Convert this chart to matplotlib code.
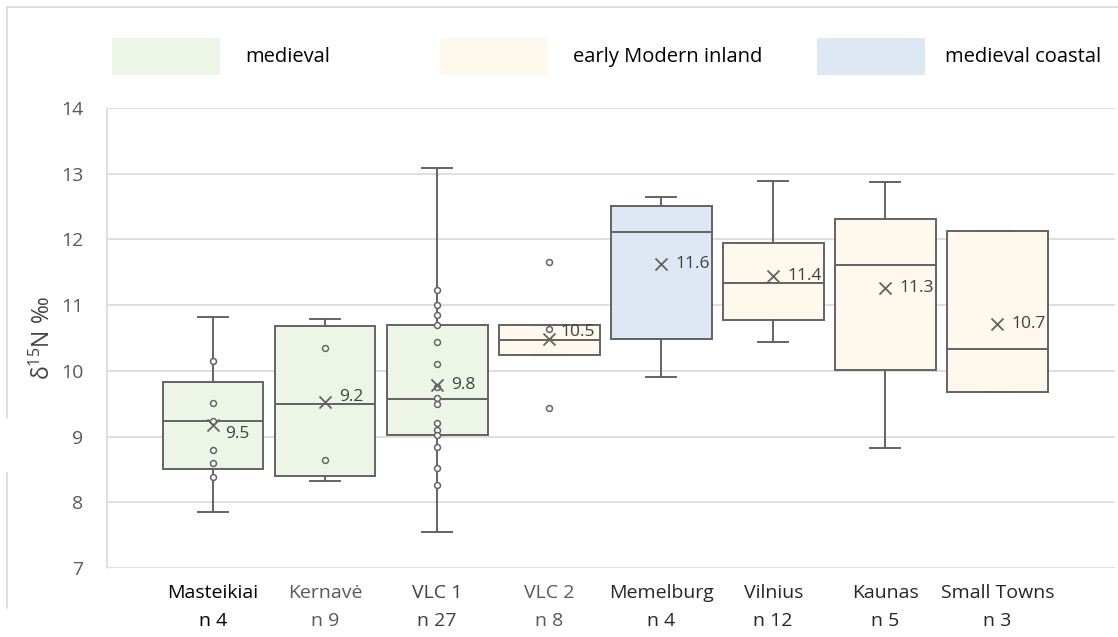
import matplotlib
matplotlib.use("Agg")
import matplotlib.pyplot as plt
from matplotlib.patches import Rectangle
from matplotlib.lines import Line2D

# ---------------- data ----------------
categories = ['Masteikiai', 'Kernavė', 'VLC 1', 'VLC 2', 'Memelburg', 'Vilnius', 'Kaunas', 'Small Towns']
n_labels = ['n 4', 'n 9', 'n 27', 'n 8', 'n 4', 'n 12', 'n 5', 'n 3']
groups = ['medieval', 'medieval', 'medieval', 'early Modern inland', 'medieval coastal',
          'early Modern inland', 'early Modern inland', 'early Modern inland']
whislo = [7.85, 8.33, 7.55, 10.24, 9.90, 10.44, 8.82, 9.68]
q1 = [8.50, 8.40, 9.03, 10.24, 10.48, 10.78, 10.02, 9.68]
med = [9.24, 9.49, 9.57, 10.47, 12.12, 11.34, 11.61, 10.34]
q3 = [9.83, 10.68, 10.70, 10.70, 12.51, 11.94, 12.31, 12.13]
whishi = [10.82, 10.79, 13.08, 10.70, 12.65, 12.89, 12.87, 12.13]
means = [9.17, 9.52, 9.78, 10.48, 11.62, 11.44, 11.26, 10.72]
mean_labels = ['9.5', '9.2', '9.8', '10.5', '11.6', '11.4', '11.3', '10.7']
inner_points = [
    [10.15, 9.51, 9.24, 8.80, 8.60, 8.39],
    [10.35, 8.65],
    [11.23, 11.00, 10.85, 10.70, 10.44, 10.10, 9.76, 9.58, 9.49, 9.21, 9.10, 9.03, 8.84, 8.52, 8.27],
    [11.65, 10.64, 9.44],
    [], [], [], [],
]
legend_labels = ['medieval', 'early Modern inland', 'medieval coastal']
yticks = [7, 8, 9, 10, 11, 12, 13, 14]

# ---------------- style ----------------
group_colors = {'medieval': '#EDF5E7', 'early Modern inland': '#FEF9EC', 'medieval coastal': '#DEE8F4'}
edge = '#636363'
grid = '#D9D9D9'
label_font = ['Open Sans', 'DejaVu Sans']
num_font = ['Open Sans', 'DejaVu Sans']

W, H = 1118, 637
fig = plt.figure(figsize=(W / 100, H / 100), dpi=100)
fig.patch.set_facecolor('white')

ax_l, ax_r, ax_t, ax_b = 107, 1115, 108, 568
ax = fig.add_axes([ax_l / W, 1 - ax_b / H, (ax_r - ax_l) / W, (ax_b - ax_t) / H])

positions = list(range(1, len(categories) + 1))
stats = []
for i in range(len(categories)):
    stats.append(dict(whislo=whislo[i], q1=q1[i], med=med[i], q3=q3[i], whishi=whishi[i],
                      mean=means[i], fliers=[], label=categories[i]))

bp = ax.bxp(stats, positions=positions, widths=0.9, capwidths=0.27, patch_artist=True,
            showmeans=False, showfliers=False,
            boxprops=dict(edgecolor=edge, linewidth=1.4),
            medianprops=dict(color=edge, linewidth=1.4),
            whiskerprops=dict(color=edge, linewidth=1.4),
            capprops=dict(color=edge, linewidth=1.4))
for patch, g in zip(bp['boxes'], groups):
    patch.set_facecolor(group_colors[g])

# inner points
for p, pts in zip(positions, inner_points):
    if pts:
        ax.scatter([p] * len(pts), pts, s=18, facecolor='white', edgecolor=edge,
                   linewidth=1.1, zorder=4)

# means
ax.scatter(positions, means, marker='x', s=75, color=edge, linewidth=1.3, zorder=5)
label_offsets = [(9, -6), (10, 4), (10, 0), (8, 5), (10, 0), (10, 0), (10, 0), (10, 0)]
for p, m, t, off in zip(positions, means, mean_labels, label_offsets):
    ax.annotate(t, (p, m), xytext=off, textcoords='offset points', ha='left', va='center',
                fontsize=12.5, color='#404040', family=num_font, zorder=6)

ax.set_xlim(0.054, 9.05)
ax.set_ylim(7, 14)
ax.set_yticks(yticks)
ax.set_yticklabels([str(v) for v in yticks], fontsize=14, color='#595959', family=num_font)
ax.tick_params(axis='y', length=0, pad=17)
ax.set_xticks([])
ax.yaxis.grid(True, color=grid, linewidth=1.2)
ax.set_axisbelow(True)
for s in ['top', 'right', 'bottom']:
    ax.spines[s].set_visible(False)
ax.spines['left'].set_color(grid)
ax.spines['left'].set_linewidth(1.2)

ax.set_ylabel(r'$\mathregular{\delta^{15}N}$ ‰', fontsize=16.5, color='#404040', family=num_font, labelpad=4)

# category labels
cat_colors = ['#000000', '#595959', '#404040', '#595959', '#262626', '#262626', '#262626', '#262626']
for p, c, n, col in zip(positions, categories, n_labels, cat_colors):
    ax.text(p, -0.035, c, transform=ax.get_xaxis_transform(), ha='center', va='top',
            fontsize=14, color=col, family=label_font)
    ax.text(p, -0.095, n, transform=ax.get_xaxis_transform(), ha='center', va='top',
            fontsize=14, color=col, family=label_font)

# legend (top)
leg_rects = [112, 440, 817]
leg_texts = [245, 573, 945]
for lab, rx, tx in zip(legend_labels, leg_rects, leg_texts):
    fig.add_artist(Rectangle((rx / W, 1 - 75 / H), 108 / W, 37 / H, transform=fig.transFigure,
                             facecolor=group_colors[lab], edgecolor='none'))
    fig.text(tx / W, 1 - 57 / H, lab, ha='left', va='center', fontsize=14.5,
             color='#000000', family=label_font)

# faint outer frame
fig.add_artist(Line2D([7 / W, 1], [1 - 7 / H, 1 - 7 / H], transform=fig.transFigure, color=grid, lw=1.2))
fig.add_artist(Line2D([7 / W, 7 / W], [1 - 7 / H, 1 - 418 / H], transform=fig.transFigure, color=grid, lw=1.2))
fig.add_artist(Line2D([7 / W, 7 / W], [1 - 473 / H, 1 - 608 / H], transform=fig.transFigure, color=grid, lw=1.2))

fig.savefig('out.png', dpi=100)
